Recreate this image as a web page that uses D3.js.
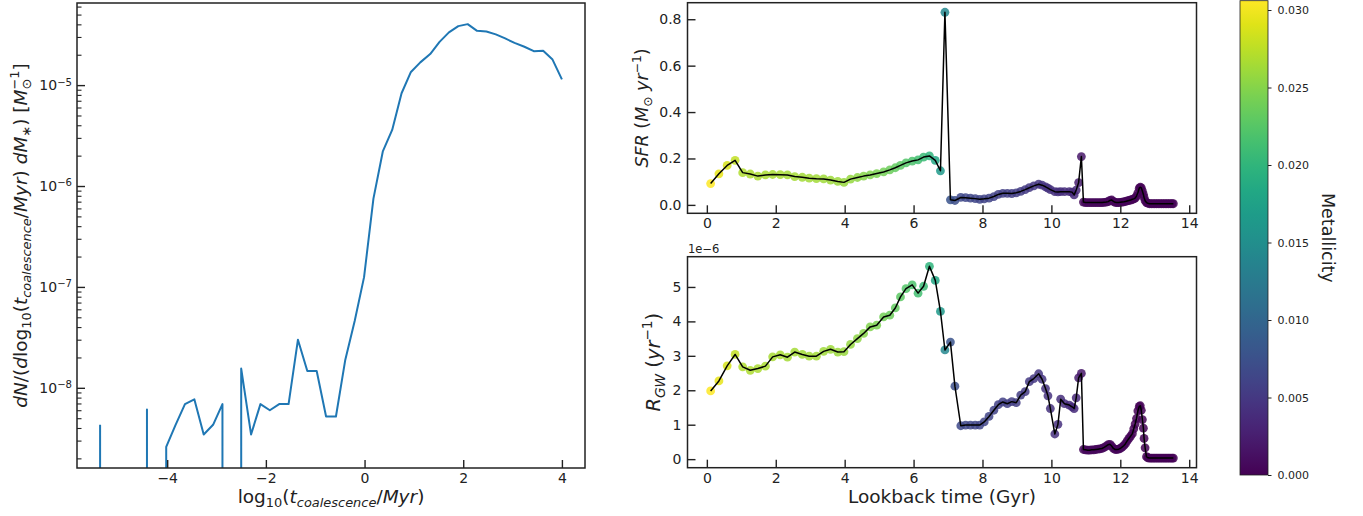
<!DOCTYPE html>
<html>
<head>
<meta charset="utf-8">
<script src="https://cdn.jsdelivr.net/npm/d3@7/dist/d3.min.js"></script>
<style>
html,body{margin:0;padding:0;background:#fff;}
svg text{font-family:"DejaVu Sans",sans-serif;white-space:pre;}
</style>
</head>
<body>
<svg id="chart" width="1363" height="516"></svg>
<script>
// ---------------- DATA ----------------
// Left panel: delay-time distribution (log10 t bins)
const binCenters = [-5.36,-5.17,-4.98,-4.79,-4.60,-4.41,-4.21,-4.02,-3.83,-3.64,
  -3.45,-3.26,-3.07,-2.88,-2.69,-2.50,-2.30,-2.11,-1.92,-1.73,
  -1.54,-1.35,-1.16,-0.97,-0.78,-0.58,-0.39,-0.20,-0.01,0.18,
  0.37,0.56,0.75,0.94,1.13,1.33,1.52,1.71,1.90,2.09,
  2.28,2.47,2.66,2.85,3.04,3.24,3.43,3.62,3.81,4.00];
const dNdlogt = [4.3e-9,0,0,0,0,6.1e-9,0,2.6e-9,4.3e-9,6.9e-9,
  7.7e-9,3.45e-9,4.3e-9,6.9e-9,0,1.55e-8,3.45e-9,6.9e-9,6.0e-9,6.9e-9,
  6.9e-9,3.0e-8,1.47e-8,1.47e-8,5.2e-9,5.2e-9,1.9e-8,4.6e-8,1.25e-7,7.5e-7,
  2.2e-6,3.6e-6,8.3e-6,1.35e-5,1.68e-5,2.03e-5,2.68e-5,3.33e-5,3.84e-5,4.02e-5,
  3.45e-5,3.40e-5,3.18e-5,2.90e-5,2.62e-5,2.40e-5,2.17e-5,2.19e-5,1.79e-5,1.14e-5];
const leftXTicks = [-4,-2,0,2,4];
const leftYTicks = [1e-8,1e-7,1e-6,1e-5];

// Right panels: lookback time series
const lookback = [0.11,0.35,0.59,0.82,1.04,1.26,1.48,1.70,1.91,2.13,
  2.34,2.55,2.77,2.97,3.18,3.39,3.59,3.80,3.98,4.17,
  4.37,4.55,4.74,4.93,5.13,5.31,5.47,5.62,5.78,5.96,
  6.13,6.29,6.46,6.63,6.78,6.91,7.07,7.20,
  7.37,7.51,7.65,7.79,7.92,8.05,8.19,8.33,8.46,8.59,
  8.72,8.85,8.98,9.11,9.24,9.36,9.49,9.63,9.73,9.83,
  9.90,9.97,10.10,10.19,10.27,10.38,10.52,10.60,10.66,10.72,
  10.79,10.87,
  10.93,10.99,11.05,11.11,11.17,11.23,11.29,11.35,11.41,11.47,
  11.53,11.59,11.65,11.70,11.75,11.80,11.85,11.90,11.95,12.00,
  12.05,12.10,12.15,12.20,12.25,12.30,12.35,12.39,12.43,12.47,
  12.51,12.55,12.58,12.61,12.64,12.67,12.69,12.72,12.76,12.80,
  12.85,12.90,12.95,13.00,13.05,13.10,13.15,13.20,13.25,13.30,
  13.35,13.40,13.45,13.50,13.54];
const sfr = [0.092,0.134,0.170,0.192,0.139,0.133,0.124,0.129,0.131,0.130,
  0.129,0.122,0.119,0.115,0.113,0.112,0.107,0.101,0.097,0.111,
  0.118,0.124,0.129,0.135,0.142,0.151,0.160,0.170,0.181,0.189,
  0.194,0.206,0.211,0.192,0.147,0.830,0.022,0.019,
  0.032,0.031,0.029,0.027,0.024,0.026,0.029,0.036,0.045,0.050,
  0.050,0.049,0.052,0.058,0.066,0.074,0.082,0.089,0.085,0.078,
  0.072,0.066,0.057,0.056,0.057,0.057,0.057,0.055,0.043,0.064,
  0.096,0.208,
  0.012,0.010,0.010,0.010,0.010,0.010,0.010,0.010,0.010,0.010,
  0.011,0.012,0.014,0.019,0.021,0.015,0.011,0.010,0.010,0.011,
  0.012,0.013,0.015,0.017,0.019,0.021,0.024,0.026,0.029,0.038,
  0.052,0.072,0.076,0.073,0.060,0.045,0.032,0.018,0.010,0.007,
  0.005,0.005,0.005,0.005,0.005,0.005,0.005,0.005,0.005,0.005,
  0.005,0.005,0.005,0.005,0.005];
// R_GW in units of 1e-6 yr^-1
const rgwE6 = [1.98,2.27,2.71,3.04,2.68,2.58,2.63,2.70,2.97,3.03,
  2.96,3.11,3.04,2.99,2.99,3.13,3.19,3.11,3.12,3.33,
  3.50,3.65,3.84,3.89,4.13,4.18,4.39,4.71,4.95,5.06,
  4.82,5.02,5.60,5.19,4.29,3.17,3.40,2.12,
  0.97,0.99,0.99,0.99,0.99,1.08,1.24,1.42,1.58,1.66,
  1.61,1.67,1.64,1.86,1.96,2.25,2.34,2.48,2.32,2.05,
  1.84,1.47,0.73,1.01,1.74,1.61,1.57,1.52,1.47,1.78,
  2.36,2.49,
  0.28,0.27,0.26,0.26,0.27,0.27,0.28,0.29,0.30,0.31,
  0.34,0.38,0.42,0.43,0.38,0.31,0.28,0.28,0.29,0.31,
  0.35,0.39,0.45,0.53,0.60,0.67,0.74,0.88,1.02,1.18,
  1.40,1.53,1.55,1.42,1.15,0.90,0.60,0.33,0.07,0.04,
  0.03,0.03,0.03,0.03,0.03,0.03,0.03,0.03,0.03,0.03,
  0.03,0.03,0.03,0.03,0.03];
const metallicity = [0.0305,0.0295,0.0286,0.0278,0.0270,0.0268,0.0267,0.0267,0.0266,0.0266,
  0.0265,0.0265,0.0264,0.0264,0.0263,0.0262,0.0261,0.0260,0.0259,0.0257,
  0.0254,0.0251,0.0248,0.0245,0.0241,0.0237,0.0233,0.0229,0.0224,0.0219,
  0.0213,0.0207,0.0199,0.0182,0.0164,0.0142,0.0080,0.0074,
  0.0068,0.0066,0.0065,0.0064,0.0063,0.0062,0.0061,0.0060,0.0059,0.0058,
  0.0057,0.0056,0.0055,0.0054,0.0053,0.0052,0.0050,0.0049,0.0047,0.0046,
  0.0045,0.0044,0.0043,0.0042,0.0041,0.0040,0.0039,0.0038,0.0037,0.0035,
  0.0025,0.0020,
  0.0008,0.0007,0.0007,0.0007,0.0006,0.0006,0.0006,0.0006,0.0006,0.0005,
  0.0005,0.0005,0.0005,0.0005,0.0005,0.0005,0.0004,0.0004,0.0004,0.0004,
  0.0004,0.0004,0.0004,0.0004,0.0004,0.0003,0.0003,0.0003,0.0003,0.0003,
  0.0003,0.0003,0.0003,0.0003,0.0003,0.0003,0.0003,0.0003,0.0002,0.0002,
  0.0002,0.0002,0.0002,0.0002,0.0002,0.0002,0.0002,0.0002,0.0002,0.0002,
  0.0002,0.0002,0.0002,0.0002,0.0002];
const rightXTicks = [0,2,4,6,8,10,12,14];
const sfrTicks = [0.0,0.2,0.4,0.6,0.8];
const rgwTicks = [0,1e-6,2e-6,3e-6,4e-6,5e-6];
const cbarTicks = [0.000,0.005,0.010,0.015,0.020,0.025,0.030];
const metalMax = 0.0306;

// ---------------- DRAW ----------------
const svg = d3.select("#chart");
const INK = "#222";
const TICKFS = 14;
const padExt = (ext, f = 0.05) => { const s = ext[1] - ext[0]; return [ext[0] - f * s, ext[1] + f * s]; };

function mathText(sel, parts, fs) {
  let shift = 0, prev = null;
  parts.forEach(p => {
    const target = p.sub ? 0.24 * fs : p.sup ? -0.42 * fs : 0;
    const small = p.sub || p.sup;
    const ts = sel.append("tspan").text(p.t)
      .attr("font-size", small ? 0.7 * fs : fs)
      .attr("font-style", p.i ? "italic" : "normal");
    if (target !== shift) { ts.attr("dy", target - shift); shift = target; }
    if (p.back && prev) ts.attr("dx", -prev.node().getComputedTextLength());
    prev = ts;
  });
  if (shift !== 0) sel.append("tspan").attr("dy", -shift).text("");
}

function styleAxis(g, fs) {
  g.select(".domain").remove();
  g.attr("font-family", null).attr("font-size", null);
  g.selectAll(".tick line").attr("stroke", INK).attr("stroke-width", 1.4);
  g.selectAll(".tick text").attr("fill", INK).attr("font-size", fs);
}

// ===== Left panel =====
const LB = {x0: 77, x1: 585, y0: 3, y1: 468};
const xL = d3.scaleLinear().domain(padExt(d3.extent(binCenters))).range([LB.x0, LB.x1]);
const posVals = dNdlogt.filter(v => v > 0);
const logExt = padExt([Math.log10(d3.min(posVals)), Math.log10(d3.max(posVals))]);
const yL = d3.scaleLog().domain([Math.pow(10, logExt[0]), Math.pow(10, logExt[1])]).range([LB.y1, LB.y0]);

svg.append("clipPath").attr("id", "clipL").append("rect")
  .attr("x", LB.x0).attr("y", LB.y0).attr("width", LB.x1 - LB.x0).attr("height", LB.y1 - LB.y0);

const lineL = d3.line()
  .x((d, i) => xL(binCenters[i]))
  .y(d => d > 0 ? yL(d) : LB.y1 + 1e6);
svg.append("path").datum(dNdlogt)
  .attr("clip-path", "url(#clipL)")
  .attr("d", lineL).attr("fill", "none")
  .attr("stroke", "#1f77b4").attr("stroke-width", 2).attr("stroke-linejoin", "round");

// x axis
const gxL = svg.append("g").attr("transform", `translate(0,${LB.y1})`)
  .call(d3.axisBottom(xL).tickValues(leftXTicks).tickSize(-8).tickPadding(5).tickFormat(d3.format("d")));
styleAxis(gxL, TICKFS);
// y axis majors
const gyL = svg.append("g").attr("transform", `translate(${LB.x0},0)`)
  .call(d3.axisLeft(yL).tickValues(leftYTicks).tickSize(-8).tickPadding(5).tickFormat(() => ""));
styleAxis(gyL, TICKFS);
gyL.selectAll(".tick text").each(function(d) {
  const t = d3.select(this);
  t.append("tspan").text("10");
  t.append("tspan").attr("dy", "-0.45em").attr("font-size", TICKFS * 0.72)
    .text("\u2212" + Math.abs(Math.round(Math.log10(d))));
});
// y axis minors
const dom = yL.domain();
const minors = [];
for (let e = Math.floor(Math.log10(dom[0])); e <= Math.ceil(Math.log10(dom[1])); e++) {
  for (let m = 2; m <= 9; m++) { const v = m * Math.pow(10, e); if (v >= dom[0] && v <= dom[1]) minors.push(v); }
}
const gyLm = svg.append("g").attr("transform", `translate(${LB.x0},0)`)
  .call(d3.axisLeft(yL).tickValues(minors).tickSize(-4.5).tickFormat(() => ""));
styleAxis(gyLm, TICKFS);
gyLm.selectAll(".tick line").attr("stroke-width", 1.1);

svg.append("rect").attr("x", LB.x0).attr("y", LB.y0).attr("width", LB.x1 - LB.x0).attr("height", LB.y1 - LB.y0)
  .attr("fill", "none").attr("stroke", INK).attr("stroke-width", 1.5);

// labels
const ylabL = svg.append("text").attr("transform", `translate(27,${(LB.y0 + LB.y1) / 2}) rotate(-90)`)
  .attr("text-anchor", "middle").attr("fill", INK).attr("font-size", 18.5);
mathText(ylabL, [
  {t: "dN", i: 1}, {t: "/("}, {t: "d", i: 1}, {t: "log"}, {t: "10", sub: 1}, {t: "("}, {t: "t", i: 1},
  {t: "coalescence", sub: 1, i: 1}, {t: "/"}, {t: "Myr", i: 1}, {t: ")"}, {t: " "}, {t: "dM", i: 1},
  {t: "\u2217", sub: 1}, {t: ")"}, {t: " ["}, {t: "M", i: 1}, {t: "\u2299", sub: 1}, {t: "\u22121", sup: 1, back: 1}, {t: "]"}
], 18.5);
const xlabL = svg.append("text").attr("x", (LB.x0 + LB.x1) / 2).attr("y", 503)
  .attr("text-anchor", "middle").attr("fill", INK).attr("font-size", 18.5);
mathText(xlabL, [
  {t: "log"}, {t: "10", sub: 1}, {t: "("}, {t: "t", i: 1}, {t: "coalescence", sub: 1, i: 1}, {t: "/"}, {t: "Myr", i: 1}, {t: ")"}
], 18.5);

// ===== Right panels =====
const RX = [687.5, 1196.5];
const TB = {y0: 2.7, y1: 213.3};
const BB = {y0: 256.7, y1: 467.7};
const xR = d3.scaleLinear().domain(padExt(d3.extent(lookback))).range(RX);
const ySFR = d3.scaleLinear().domain(padExt(d3.extent(sfr))).range([TB.y1, TB.y0]);
const rgw = rgwE6.map(v => v * 1e-6);
const yRGW = d3.scaleLinear().domain(padExt(d3.extent(rgw))).range([BB.y1, BB.y0]);
const zColor = d3.scaleSequential(d3.interpolateViridis).domain([0, metalMax]);

function panel(vals, yScale, box, yTicks, yFmt) {
  const g = svg.append("g");
  g.selectAll("circle").data(vals).join("circle")
    .attr("cx", (d, i) => xR(lookback[i]))
    .attr("cy", d => yScale(d))
    .attr("r", 4.4)
    .attr("fill", (d, i) => zColor(metallicity[i]))
    .attr("fill-opacity", 0.85);
  g.append("path").datum(vals)
    .attr("d", d3.line().x((d, i) => xR(lookback[i])).y(d => yScale(d)))
    .attr("fill", "none").attr("stroke", "#000").attr("stroke-width", 1.5).attr("stroke-linejoin", "round");
  const gx = svg.append("g").attr("transform", `translate(0,${box.y1})`)
    .call(d3.axisBottom(xR).tickValues(rightXTicks).tickSize(-8).tickPadding(5).tickFormat(d3.format("d")));
  styleAxis(gx, TICKFS);
  const gy = svg.append("g").attr("transform", `translate(${RX[0]},0)`)
    .call(d3.axisLeft(yScale).tickValues(yTicks).tickSize(-8).tickPadding(6).tickFormat(yFmt));
  styleAxis(gy, TICKFS);
  svg.append("rect").attr("x", RX[0]).attr("y", box.y0).attr("width", RX[1] - RX[0]).attr("height", box.y1 - box.y0)
    .attr("fill", "none").attr("stroke", INK).attr("stroke-width", 1.5);
}
panel(sfr, ySFR, TB, sfrTicks, d3.format(".1f"));
panel(rgw, yRGW, BB, rgwTicks, d => String(Math.round(d * 1e6)));

// offset text
svg.append("text").attr("x", 688).attr("y", 253).attr("fill", INK).attr("font-size", 11.5).text("1e\u22126");

// y labels
const ylabT = svg.append("text").attr("transform", `translate(648,${(TB.y0 + TB.y1) / 2}) rotate(-90)`)
  .attr("text-anchor", "middle").attr("fill", INK).attr("font-size", 17.5);
mathText(ylabT, [
  {t: "SFR", i: 1}, {t: " ("}, {t: "M", i: 1}, {t: "\u2299", sub: 1}, {t: " "}, {t: "yr", i: 1}, {t: "\u22121", sup: 1}, {t: ")"}
], 17.5);
const ylabB = svg.append("text").attr("transform", `translate(660,${(BB.y0 + BB.y1) / 2}) rotate(-90)`)
  .attr("text-anchor", "middle").attr("fill", INK).attr("font-size", 19.5);
mathText(ylabB, [
  {t: "R", i: 1}, {t: "GW", sub: 1, i: 1}, {t: " ("}, {t: "yr", i: 1}, {t: "\u22121", sup: 1}, {t: ")"}
], 19.5);
svg.append("text").attr("x", (RX[0] + RX[1]) / 2).attr("y", 503).attr("text-anchor", "middle")
  .attr("fill", INK).attr("font-size", 18.5).text("Lookback time (Gyr)");

// ===== Colorbar =====
const CB = {x0: 1240, x1: 1268, y0: 0.7, y1: 475};
const cbY = d3.scaleLinear().domain([0, metalMax]).range([CB.y1, CB.y0]);
const grad = svg.append("defs").append("linearGradient").attr("id", "vir")
  .attr("x1", 0).attr("y1", 1).attr("x2", 0).attr("y2", 0);
d3.range(0, 1.0001, 0.05).forEach(t => grad.append("stop").attr("offset", t).attr("stop-color", d3.interpolateViridis(t)));
svg.append("rect").attr("x", CB.x0).attr("y", CB.y0).attr("width", CB.x1 - CB.x0).attr("height", CB.y1 - CB.y0)
  .attr("fill", "url(#vir)").attr("stroke", INK).attr("stroke-width", 0.8);
const gcb = svg.append("g").attr("transform", `translate(${CB.x1},0)`)
  .call(d3.axisRight(cbY).tickValues(cbarTicks).tickSize(3.5).tickPadding(6).tickFormat(d3.format(".3f")));
styleAxis(gcb, 11);
gcb.selectAll(".tick line").attr("stroke-width", 1);
svg.append("text").attr("transform", `translate(1322,${(CB.y0 + CB.y1) / 2}) rotate(90)`)
  .attr("text-anchor", "middle").attr("fill", INK).attr("font-size", 17.5).text("Metallicity");
</script>
</body>
</html>
